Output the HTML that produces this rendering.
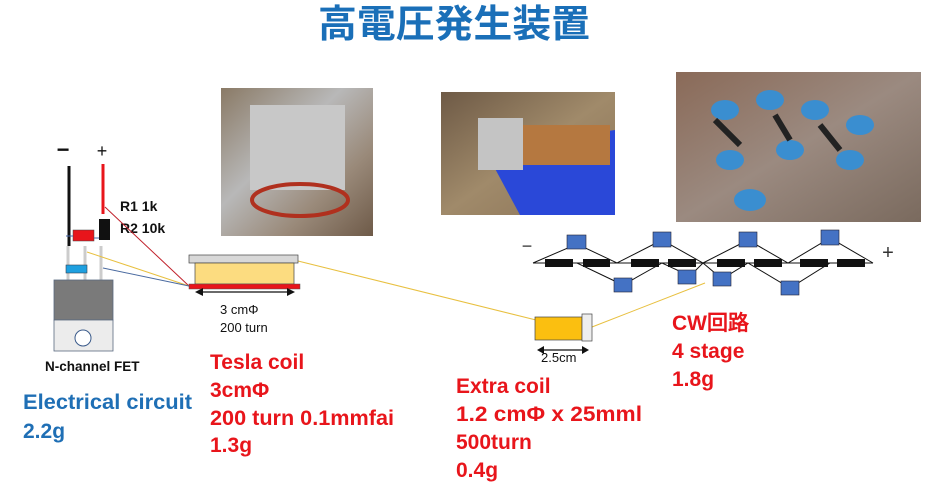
<!DOCTYPE html>
<html><head><meta charset="utf-8"><style>
html,body{margin:0;padding:0;background:#fff;width:933px;height:487px;overflow:hidden}
svg{display:block}
.r{fill:#e8151b;font-family:"Liberation Sans",sans-serif;font-weight:bold;font-size:21px}
.b{fill:#1f6fb5;font-family:"Liberation Sans",sans-serif;font-weight:bold;font-size:21px}
.k{fill:#111;font-family:"Liberation Sans","Noto Sans CJK JP",sans-serif;font-size:13px}
</style></head><body>
<svg width="933" height="487" viewBox="0 0 933 487" xmlns="http://www.w3.org/2000/svg">
<defs>
<linearGradient id="p1" x1="0" y1="0" x2="1" y2="1"><stop offset="0" stop-color="#8a7a66"/><stop offset=".4" stop-color="#b8b8b8"/><stop offset=".7" stop-color="#9a8a7a"/><stop offset="1" stop-color="#6e5a48"/></linearGradient>
<linearGradient id="p2" x1="0" y1="0" x2="1" y2="1"><stop offset="0" stop-color="#6e5a46"/><stop offset=".5" stop-color="#a08a6a"/><stop offset="1" stop-color="#8a7256"/></linearGradient>
<linearGradient id="p3" x1="0" y1="0" x2="1" y2="1"><stop offset="0" stop-color="#8a6a58"/><stop offset=".5" stop-color="#9b8a80"/><stop offset="1" stop-color="#7a6a5e"/></linearGradient>
</defs>
<text x="454" y="37" text-anchor="middle" font-family="'Noto Sans CJK JP',sans-serif" font-weight="bold" font-size="38" fill="#1a6fb8" textLength="272" lengthAdjust="spacingAndGlyphs">高電圧発生装置</text>

<!-- photos -->
<rect x="221" y="88" width="152" height="148" fill="url(#p1)"/>
<rect x="250" y="105" width="95" height="85" fill="#c8c8c8"/>
<ellipse cx="300" cy="200" rx="48" ry="16" fill="none" stroke="#b0301e" stroke-width="4"/>
<rect x="441" y="92" width="174" height="123" fill="url(#p2)"/>
<polygon points="485,150 615,130 615,215 520,215" fill="#2a48d8"/>
<rect x="520" y="125" width="90" height="40" fill="#b57840"/>
<rect x="478" y="118" width="45" height="52" fill="#c4c4c4"/>
<rect x="676" y="72" width="245" height="150" fill="url(#p3)"/>
<g fill="#3a8ed0"><ellipse cx="725" cy="110" rx="14" ry="10"/><ellipse cx="770" cy="100" rx="14" ry="10"/><ellipse cx="815" cy="110" rx="14" ry="10"/><ellipse cx="860" cy="125" rx="14" ry="10"/><ellipse cx="730" cy="160" rx="14" ry="10"/><ellipse cx="790" cy="150" rx="14" ry="10"/><ellipse cx="850" cy="160" rx="14" ry="10"/><ellipse cx="750" cy="200" rx="16" ry="11"/></g>
<g stroke="#222" stroke-width="6"><line x1="715" y1="120" x2="740" y2="145"/><line x1="775" y1="115" x2="790" y2="140"/><line x1="820" y1="125" x2="840" y2="150"/></g>

<!-- circuit -->
<text x="63" y="157" font-family="Liberation Sans" font-size="22" font-weight="bold" fill="#111" text-anchor="middle">−</text>
<text x="102" y="157" font-family="Liberation Sans" font-size="18" fill="#111" text-anchor="middle">+</text>
<line x1="69" y1="166" x2="69" y2="246" stroke="#111" stroke-width="3"/>
<line x1="103" y1="164" x2="103" y2="214" stroke="#e8151b" stroke-width="3"/>
<g stroke="#ccc" stroke-width="3"><line x1="68" y1="246" x2="68" y2="280"/><line x1="85" y1="246" x2="85" y2="280"/><line x1="101" y1="246" x2="101" y2="280"/></g>
<rect x="99" y="219" width="11" height="21" fill="#111"/>
<rect x="73" y="230" width="21" height="11" fill="#e8151b" stroke="#444" stroke-width=".5"/>
<line x1="66" y1="236" x2="73" y2="236" stroke="#4466aa"/>
<line x1="94" y1="238" x2="99" y2="238" stroke="#4466aa"/>
<rect x="66" y="265" width="21" height="8" fill="#1ea0e0" stroke="#345" stroke-width=".6"/>
<rect x="54" y="280" width="59" height="40" fill="#7a7a7a" stroke="#5a6a80" stroke-width=".8"/>
<rect x="54" y="320" width="59" height="31" fill="#ececec" stroke="#5a6a80" stroke-width=".8"/>
<circle cx="83" cy="338" r="8" fill="#fff" stroke="#3a5a8a"/>
<text x="120" y="211" font-family="Liberation Sans" font-weight="bold" font-size="14" fill="#111">R1 1k</text>
<text x="120" y="233" font-family="Liberation Sans" font-weight="bold" font-size="14" fill="#111">R2 10k</text>
<text x="45" y="371" font-family="Liberation Sans" font-weight="bold" font-size="13.5" fill="#111">N-channel FET</text>

<line x1="105" y1="207" x2="189" y2="286" stroke="#c0202a" stroke-width="1"/>
<line x1="87" y1="252" x2="189" y2="286" stroke="#e8c040" stroke-width="1"/>
<line x1="103" y1="268" x2="189" y2="286" stroke="#4a6aa0" stroke-width="1"/>
<line x1="298" y1="261" x2="536" y2="320" stroke="#e8c040" stroke-width="1"/>
<line x1="592" y1="327" x2="705" y2="283" stroke="#e8c040" stroke-width="1"/>

<!-- tesla coil -->
<rect x="189" y="255" width="109" height="8" fill="#d8d8d8" stroke="#444" stroke-width=".7"/>
<rect x="195" y="263" width="99" height="21" fill="#fcdc80" stroke="#444" stroke-width=".7"/>
<rect x="189" y="284" width="111" height="5" fill="#e8151b" stroke="#555" stroke-width=".5"/>
<line x1="198" y1="292" x2="292" y2="292" stroke="#111" stroke-width="1.2"/>
<polygon points="195,292 203,288 203,296" fill="#111"/><polygon points="295,292 287,288 287,296" fill="#111"/>
<text x="220" y="314" class="k">3 cmΦ</text>
<text x="220" y="332" class="k">200 turn</text>

<!-- extra coil -->
<rect x="535" y="317" width="47" height="23" fill="#fbbf10" stroke="#444" stroke-width=".7"/>
<rect x="582" y="314" width="10" height="27" fill="#eee" stroke="#444" stroke-width=".7"/>
<line x1="540" y1="350" x2="586" y2="350" stroke="#111" stroke-width="1.2"/>
<polygon points="537,350 544,346 544,354" fill="#111"/><polygon points="589,350 582,346 582,354" fill="#111"/>
<text x="541" y="362" class="k" font-size="12">2.5cm</text>

<!-- CW -->
<g stroke="#111" stroke-width="1" fill="none">
<line x1="533" y1="263" x2="873" y2="263"/>
<polyline points="533,263 577,244 617,263 662,240 703,263 748,240 788,263 830,238 873,263"/>
<polyline points="533,263 577,263 623,285 662,263 690,276 703,263"/>
<polyline points="703,263 722,279 748,263 790,288 830,263 873,263"/>
</g>
<g fill="#111">
<rect x="545" y="259" width="28" height="8"/><rect x="583" y="259" width="27" height="8"/><rect x="631" y="259" width="28" height="8"/><rect x="668" y="259" width="28" height="8"/><rect x="717" y="259" width="28" height="8"/><rect x="754" y="259" width="28" height="8"/><rect x="800" y="259" width="28" height="8"/><rect x="837" y="259" width="28" height="8"/>
</g>
<g fill="#4472c4" stroke="#223" stroke-width=".6">
<rect x="567" y="235" width="19" height="14"/><rect x="653" y="232" width="18" height="15"/><rect x="739" y="232" width="18" height="15"/><rect x="821" y="230" width="18" height="15"/>
<rect x="614" y="278" width="18" height="14"/><rect x="678" y="270" width="18" height="14"/><rect x="713" y="272" width="18" height="14"/><rect x="781" y="281" width="18" height="14"/>
</g>
<text x="527" y="252" font-family="Liberation Sans" font-size="18" fill="#333" text-anchor="middle">−</text>
<text x="888" y="259" font-family="Liberation Sans" font-size="20" fill="#333" text-anchor="middle">+</text>

<!-- labels -->
<text x="210" y="369" class="r">Tesla coil</text>
<text x="210" y="397" class="r">3cmΦ</text>
<text x="210" y="425" class="r" textLength="184" lengthAdjust="spacingAndGlyphs">200 turn 0.1mmfai</text>
<text x="210" y="452" class="r">1.3g</text>
<text x="23" y="409" class="b" textLength="169" lengthAdjust="spacingAndGlyphs">Electrical circuit</text>
<text x="23" y="438" class="b">2.2g</text>
<text x="456" y="393" class="r">Extra coil</text>
<text x="456" y="421" class="r" textLength="186" lengthAdjust="spacingAndGlyphs">1.2 cmΦ x 25mml</text>
<text x="456" y="449" class="r">500turn</text>
<text x="456" y="477" class="r">0.4g</text>
<text x="672" y="330" class="r" font-family="'Liberation Sans','Noto Sans CJK JP',sans-serif">CW回路</text>
<text x="672" y="358" class="r">4 stage</text>
<text x="672" y="386" class="r">1.8g</text>
</svg>
</body></html>
